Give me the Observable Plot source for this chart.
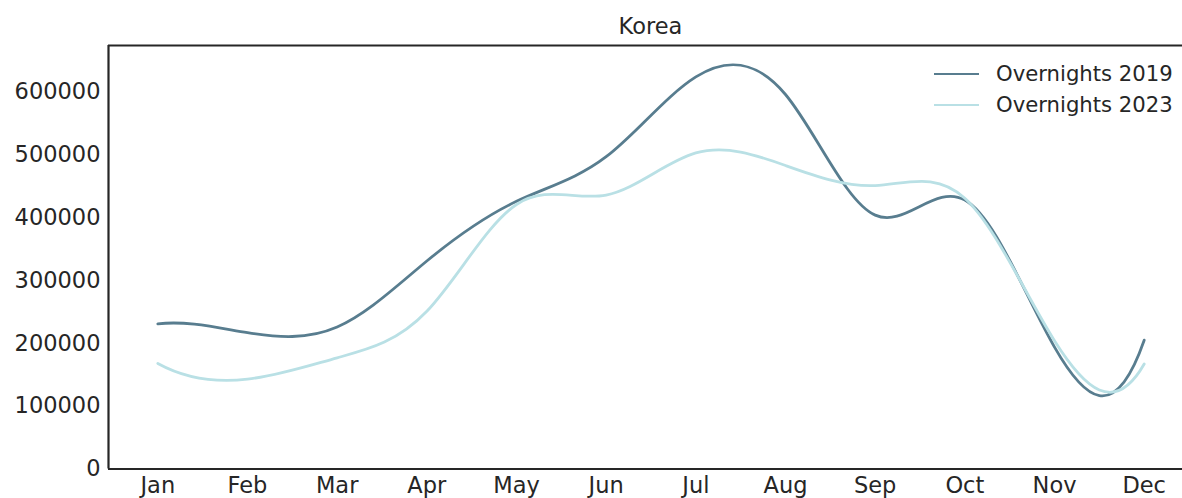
<!DOCTYPE html>
<html>
<head>
<meta charset="utf-8">
<script src="https://cdn.jsdelivr.net/npm/d3@7"></script>
<script src="https://cdn.jsdelivr.net/npm/@observablehq/plot@0.6"></script>
<style>
  html, body { margin: 0; padding: 0; background: #fff; overflow: hidden; }
  #wrap { position: relative; width: 1182px; height: 498px; overflow: hidden; font-family: "DejaVu Sans", sans-serif; color: #262626; }
  #title { position: absolute; left: 550px; width: 201px; top: 11px; text-align: center; font-size: 22.5px; line-height: 30px; }
  #legend { position: absolute; left: 934px; top: 58px; font-size: 21.2px; white-space: nowrap; }
  .row { display: flex; align-items: center; height: 31px; }
  .sw { width: 45px; height: 0; border-top: 2.8px solid; margin-right: 17px; }
</style>
</head>
<body>
<div id="wrap">
  <div id="chart"></div>
  <div id="title">Korea</div>
  <div id="legend"></div>
</div>
<script>
const months = ["Jan","Feb","Mar","Apr","May","Jun","Jul","Aug","Sep","Oct","Nov","Dec"];
const overnights2019 = [231000, 217000, 226000, 331000, 426000, 497000, 624000, 596000, 404000, 428000, 194000, 205000];
const overnights2023 = [168000, 143000, 177000, 251000, 421000, 436000, 503000, 483000, 451000, 431000, 204000, 167000];
const yTicks = [0, 100000, 200000, 300000, 400000, 500000, 600000];
const seriesNames = ["Overnights 2019", "Overnights 2023"];
const seriesColors = ["#587d8f", "#b9e0e5"];

// Cubic spline curve with "not-a-knot" end conditions (a d3-style curve factory)
function curveNotAKnot(context) {
  let xs, ys;
  return {
    areaStart() {}, areaEnd() {},
    lineStart() { xs = []; ys = []; },
    point(x, y) { xs.push(+x); ys.push(+y); },
    lineEnd() {
      const n = xs.length;
      if (n === 0) return;
      context.moveTo(xs[0], ys[0]);
      if (n < 4) { for (let i = 1; i < n; i++) context.lineTo(xs[i], ys[i]); return; }
      const h = [];
      for (let i = 0; i < n - 1; i++) h.push(xs[i + 1] - xs[i]);
      const A = Array.from({length: n}, () => new Array(n + 1).fill(0));
      A[0][0] = h[1]; A[0][1] = -(h[0] + h[1]); A[0][2] = h[0];
      for (let i = 1; i < n - 1; i++) {
        A[i][i - 1] = h[i - 1];
        A[i][i] = 2 * (h[i - 1] + h[i]);
        A[i][i + 1] = h[i];
        A[i][n] = 6 * ((ys[i + 1] - ys[i]) / h[i] - (ys[i] - ys[i - 1]) / h[i - 1]);
      }
      A[n - 1][n - 3] = h[n - 2]; A[n - 1][n - 2] = -(h[n - 3] + h[n - 2]); A[n - 1][n - 1] = h[n - 3];
      for (let c = 0; c < n; c++) {
        let p = c;
        for (let r = c + 1; r < n; r++) if (Math.abs(A[r][c]) > Math.abs(A[p][c])) p = r;
        [A[c], A[p]] = [A[p], A[c]];
        for (let r = 0; r < n; r++) {
          if (r === c) continue;
          const f = A[r][c] / A[c][c];
          if (f) for (let k = c; k <= n; k++) A[r][k] -= f * A[c][k];
        }
      }
      const M = A.map((row, i) => row[n] / row[i]);
      for (let i = 0; i < n - 1; i++) {
        const s = (ys[i + 1] - ys[i]) / h[i];
        const d0 = s - h[i] * (2 * M[i] + M[i + 1]) / 6;
        const d1 = s + h[i] * (M[i] + 2 * M[i + 1]) / 6;
        context.bezierCurveTo(
          xs[i] + h[i] / 3, ys[i] + d0 * h[i] / 3,
          xs[i + 1] - h[i] / 3, ys[i + 1] - d1 * h[i] / 3,
          xs[i + 1], ys[i + 1]);
      }
    }
  };
}

const rows = [];
months.forEach((m, i) => {
  rows.push({i, series: seriesNames[0], value: overnights2019[i]});
  rows.push({i, series: seriesNames[1], value: overnights2023[i]});
});

const ink = "#262626";
const chart = Plot.plot({
  width: 1182,
  height: 498,
  marginTop: 45,
  marginBottom: 29.5,
  marginLeft: 108,
  marginRight: 0,
  style: {fontFamily: "DejaVu Sans, sans-serif", fontSize: "22.5px", color: ink, background: "#fff"},
  x: {domain: [-0.55, 11.55], range: [108, 1193]},
  y: {domain: [0, 674000], range: [468.5, 45]},
  color: {domain: seriesNames, range: seriesColors},
  marks: [
    Plot.axisY({ticks: yTicks, tickSize: 0, tickPadding: 8, tickFormat: d3.format("d"), label: null, fontSize: 22.5}),
    Plot.axisX({ticks: d3.range(12), tickSize: 0, tickPadding: 8, tickFormat: i => months[i], label: null, fontSize: 22.5}),
    Plot.line(rows, {x: "i", y: "value", z: "series", stroke: "series", strokeWidth: 2.8, curve: curveNotAKnot}),
    Plot.ruleX([-0.55], {stroke: ink, strokeWidth: 2.2}),
    Plot.ruleY([0, 674000], {stroke: ink, strokeWidth: 2.2})
  ]
});
document.getElementById("chart").appendChild(chart);

const legend = document.getElementById("legend");
seriesNames.forEach((name, k) => {
  const row = document.createElement("div");
  row.className = "row";
  const sw = document.createElement("div");
  sw.className = "sw";
  sw.style.borderColor = seriesColors[k];
  const t = document.createElement("span");
  t.textContent = name;
  row.appendChild(sw);
  row.appendChild(t);
  legend.appendChild(row);
});
</script>
</body>
</html>
